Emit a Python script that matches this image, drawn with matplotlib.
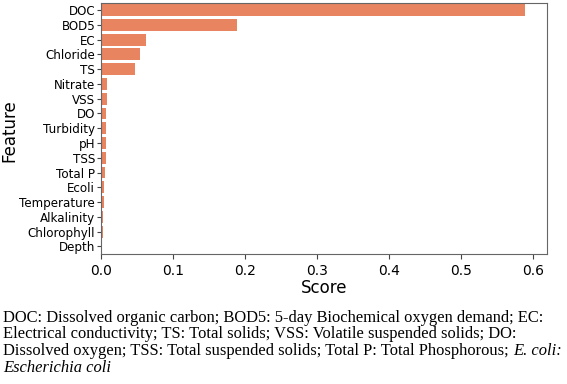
import numpy as np
import matplotlib.pyplot as plt

features = ["DOC", "BOD5", "EC", "Chloride", "TS", "Nitrate", "VSS", "DO",
            "Turbidity", "pH", "TSS", "Total P", "Ecoli", "Temperature",
            "Alkalinity", "Chlorophyll", "Depth"]
scores = [0.589, 0.188, 0.062, 0.053, 0.046, 0.0083, 0.0081, 0.0064,
          0.0068, 0.0056, 0.0056, 0.0050, 0.0037, 0.0030, 0.0020, 0.0015, 0.0006]
xticks = [0.0, 0.1, 0.2, 0.3, 0.4, 0.5, 0.6]

caption_lines = [
    "DOC: Dissolved organic carbon; BOD5: 5-day Biochemical oxygen demand; EC:",
    "Electrical conductivity; TS: Total solids; VSS: Volatile suspended solids; DO:",
    "Dissolved oxygen; TSS: Total suspended solids; Total P: Total Phosphorous; ",
]

fig = plt.figure(figsize=(5.67, 3.84), dpi=100)
ax = fig.add_axes([0.179, 0.339, 0.785, 0.654])

y = np.arange(len(features))
ax.barh(y, scores, height=0.8, color="#E8845F")
ax.set_yticks(y)
ax.set_yticklabels(features, fontsize=8.6)
ax.set_ylim(len(features) - 0.5, -0.5)
ax.set_xlim(0, max(scores) * 1.05)
ax.set_xticks(xticks)
ax.set_xticklabels([f"{t:.1f}" for t in xticks], fontsize=10)
ax.set_xlabel("Score", fontsize=12, labelpad=1)
ax.set_ylabel("Feature", fontsize=12)
ax.yaxis.set_label_coords(-0.186, 0.49)
for s in ax.spines.values():
    s.set_color("#666666")
ax.tick_params(axis="y", colors="#444444", labelcolor="black", length=3, pad=1.5)
ax.tick_params(axis="x", colors="#444444", labelcolor="black", length=3.5)

serif = ["Liberation Serif", "DejaVu Serif"]
csize = 11.9
baselines = [321.7, 338.5, 355.0]
for line, yb in zip(caption_lines, baselines):
    t = fig.text(3 / 567, 1 - yb / 384, line, family=serif, fontsize=csize,
                 va="baseline", ha="left")
last = t
fig.canvas.draw()
ax.annotate("E. coli:", xy=(1, 0), xycoords=last, va="bottom", ha="left",
            family=serif, fontsize=csize, style="italic")
fig.text(3 / 567, 1 - 371.5 / 384, "Escherichia coli", family=serif,
         fontsize=csize, style="italic", va="baseline", ha="left")

fig.savefig("out.png", dpi=100)
